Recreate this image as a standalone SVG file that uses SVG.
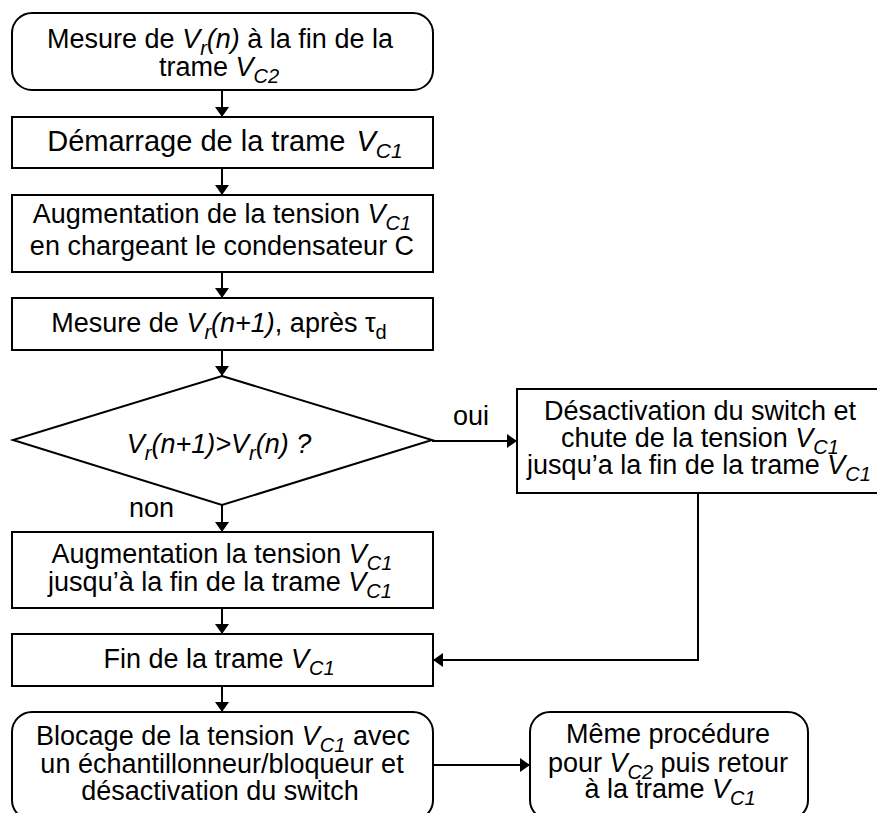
<svg xmlns="http://www.w3.org/2000/svg" width="877" height="813" viewBox="0 0 877 813">
<defs>
<style>
.t{font-family:"Liberation Sans",Arial,sans-serif;font-size:27px;fill:#000;text-anchor:middle}
.l{text-anchor:start}
.i{font-style:italic}
.s{font-size:20px}
.box{fill:#fff;stroke:#000;stroke-width:2}
.ln{fill:none;stroke:#000;stroke-width:2}
</style>
<marker id="ah" markerUnits="userSpaceOnUse" markerWidth="10" markerHeight="14" refX="10" refY="7" orient="auto">
<path d="M0,0 L10,7 L0,14 z" fill="#000"/>
</marker>
</defs>
<rect width="877" height="813" fill="#fff"/>

<g id="connectors" class="ln" marker-end="url(#ah)">
<line x1="222" y1="90" x2="222" y2="117"/>
<line x1="222" y1="168" x2="222" y2="195"/>
<line x1="222" y1="272" x2="222" y2="298"/>
<line x1="222" y1="350" x2="222" y2="376"/>
<line x1="432" y1="441" x2="517" y2="441"/>
<line x1="222" y1="505" x2="222" y2="532"/>
<polyline points="698,493 698,660 433,660"/>
<line x1="222" y1="608" x2="222" y2="634"/>
<line x1="222" y1="686" x2="222" y2="712"/>
<line x1="433" y1="765" x2="530" y2="765"/>
</g>

<g id="n1">
<rect class="box" x="12" y="13" width="421" height="77" rx="20"/>
<text class="t" x="220" y="48">Mesure de <tspan class="i">V</tspan><tspan class="i s" dy="7">r</tspan><tspan class="i" dy="-7">(n)</tspan> à la fin de la</text>
<text class="t" x="219" y="76">trame <tspan class="i">V</tspan><tspan class="i s" dy="7">C2</tspan></text>
</g>

<g id="n2">
<rect class="box" x="12" y="117" width="421" height="51"/>
<text class="t" x="225" y="151" style="font-size:29px">Démarrage de la trame <tspan class="i" dx="3">V</tspan><tspan class="i" dy="7" style="font-size:21px">C1</tspan></text>
</g>

<g id="n3">
<rect class="box" x="12" y="195" width="421" height="77"/>
<text class="t" x="222" y="223">Augmentation de la tension <tspan class="i">V</tspan><tspan class="i s" dy="7">C1</tspan></text>
<text class="t" x="222" y="255">en chargeant le condensateur C</text>
</g>

<g id="n4">
<rect class="box" x="12" y="298" width="421" height="52"/>
<text class="t" x="219" y="332">Mesure de <tspan class="i">V</tspan><tspan class="i s" dy="7">r</tspan><tspan class="i" dy="-7">(n+1)</tspan>, après τ<tspan class="s" dy="7">d</tspan></text>
</g>

<g id="n5">
<polygon class="box" points="222,376 432,440 222,505 13,440"/>
<text class="t i" x="219" y="453">V<tspan class="s" dy="7">r</tspan><tspan dy="-7">(n+1)&gt;V</tspan><tspan class="s" dy="7">r</tspan><tspan dy="-7">(n) ?</tspan></text>
<text class="t l" x="129" y="517">non</text>
<text class="t l" x="453" y="425">oui</text>
</g>

<g id="n6">
<rect class="box" x="517" y="389" width="364" height="104"/>
<text class="t" x="700" y="420">Désactivation du switch et</text>
<text class="t" x="700" y="447">chute de la tension <tspan class="i">V</tspan><tspan class="i s" dy="7">C1</tspan></text>
<text class="t" x="699" y="474">jusqu’a la fin de la trame <tspan class="i">V</tspan><tspan class="i s" dy="7">C1</tspan></text>
</g>

<g id="n7">
<rect class="box" x="12" y="532" width="421" height="76"/>
<text class="t" x="222" y="563">Augmentation la tension <tspan class="i">V</tspan><tspan class="i s" dy="7">C1</tspan></text>
<text class="t" x="220" y="591">jusqu’à la fin de la trame <tspan class="i">V</tspan><tspan class="i s" dy="7">C1</tspan></text>
</g>

<g id="n8">
<rect class="box" x="12" y="634" width="421" height="52"/>
<text class="t" x="219" y="668">Fin de la trame <tspan class="i">V</tspan><tspan class="i s" dy="7">C1</tspan></text>
</g>

<g id="n9">
<rect class="box" x="12" y="712" width="421" height="108" rx="20"/>
<text class="t" x="223" y="745">Blocage de la tension <tspan class="i">V</tspan><tspan class="i s" dy="7">C1</tspan><tspan dy="-7"> avec</tspan></text>
<text class="t" x="222" y="773">un échantillonneur/bloqueur et</text>
<text class="t" x="220" y="800">désactivation du switch</text>
</g>

<g id="n10">
<rect class="box" x="530" y="712" width="278" height="108" rx="20"/>
<text class="t" x="668" y="743">Même procédure</text>
<text class="t" x="668" y="772">pour <tspan class="i">V</tspan><tspan class="i s" dy="7">C2</tspan><tspan dy="-7"> puis retour</tspan></text>
<text class="t" x="670" y="798">à la trame <tspan class="i">V</tspan><tspan class="i s" dy="7">C1</tspan></text>
</g>
</svg>
